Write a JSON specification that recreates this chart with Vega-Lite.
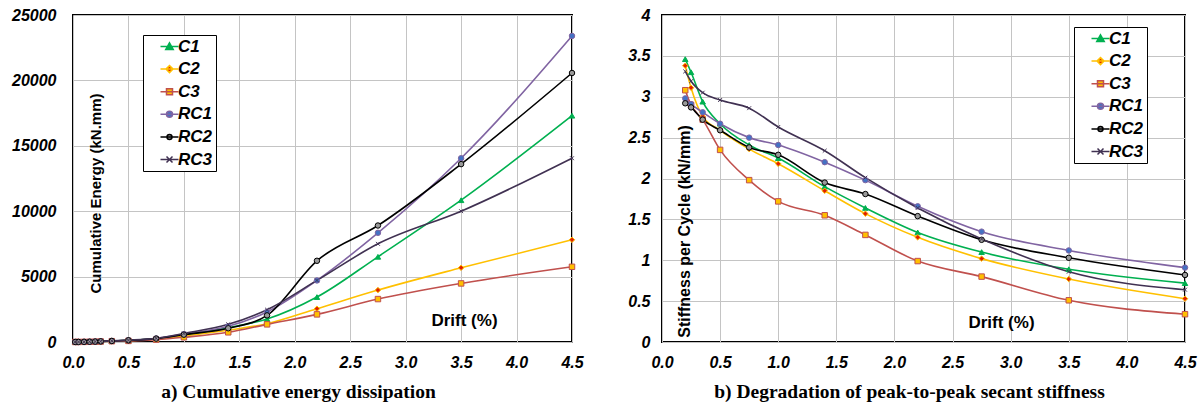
{
  "$schema": "https://vega.github.io/schema/vega-lite/v6.json",
  "background": "white",
  "padding": {"left": 10, "top": 6, "right": 5, "bottom": 2},
  "spacing": 41,
  "config": {
    "font": "Liberation Sans",
    "view": {"stroke": "black", "strokeWidth": 2},
    "axis": {
      "domain": false, "ticks": false, "tickSize": 0, "grid": true,
      "gridColor": "#c4c4c4", "gridWidth": 1,
      "labelFont": "Liberation Sans", "labelFontSize": 16, "labelFontWeight": "bold", "labelFontStyle": "italic", "labelColor": "black",
      "labelFlush": false, "labelOverlap": false,
      "titleFont": "Liberation Sans", "titleFontSize": 15, "titleFontWeight": "bold", "titleColor": "black"
    },
    "title": {"font": "Liberation Serif", "fontSize": 19.5, "fontWeight": "bold", "color": "black", "orient": "bottom", "anchor": "middle", "frame": "group", "offset": 13},
    "legend": {
      "orient": "none", "title": null, "strokeColor": "black", "fillColor": "white", "padding": 3,
      "labelFont": "Liberation Sans", "labelFontSize": 17, "labelFontWeight": "bold", "labelFontStyle": "italic", "labelColor": "black",
      "rowPadding": 4.6, "symbolSize": 100, "symbolOffset": 15, "labelOffset": 0, "symbolStrokeWidth": 1.5, "symbolOpacity": 1
    }
  },
  "datasets": {
    "energy": [
      {"s":"C1","d":0.02,"v":2},{"s":"C1","d":0.05,"v":5},{"s":"C1","d":0.1,"v":12},{"s":"C1","d":0.15,"v":20},{"s":"C1","d":0.2,"v":30},{"s":"C1","d":0.25,"v":45},{"s":"C1","d":0.35,"v":75},{"s":"C1","d":0.5,"v":125},{"s":"C1","d":0.75,"v":250},{"s":"C1","d":1.0,"v":530},{"s":"C1","d":1.4,"v":1100},{"s":"C1","d":1.75,"v":1756},{"s":"C1","d":2.2,"v":3435},{"s":"C1","d":2.75,"v":6514},{"s":"C1","d":3.5,"v":10840},{"s":"C1","d":4.5,"v":17300},
      {"s":"C2","d":0.02,"v":2},{"s":"C2","d":0.05,"v":5},{"s":"C2","d":0.1,"v":11},{"s":"C2","d":0.15,"v":19},{"s":"C2","d":0.2,"v":28},{"s":"C2","d":0.25,"v":42},{"s":"C2","d":0.35,"v":70},{"s":"C2","d":0.5,"v":105},{"s":"C2","d":0.75,"v":215},{"s":"C2","d":1.0,"v":460},{"s":"C2","d":1.4,"v":900},{"s":"C2","d":1.75,"v":1400},{"s":"C2","d":2.2,"v":2545},{"s":"C2","d":2.75,"v":3969},{"s":"C2","d":3.5,"v":5674},{"s":"C2","d":4.5,"v":7812},
      {"s":"C3","d":0.02,"v":2},{"s":"C3","d":0.05,"v":4},{"s":"C3","d":0.1,"v":10},{"s":"C3","d":0.15,"v":17},{"s":"C3","d":0.2,"v":25},{"s":"C3","d":0.25,"v":38},{"s":"C3","d":0.35,"v":62},{"s":"C3","d":0.5,"v":85},{"s":"C3","d":0.75,"v":180},{"s":"C3","d":1.0,"v":360},{"s":"C3","d":1.4,"v":740},{"s":"C3","d":1.75,"v":1349},{"s":"C3","d":2.2,"v":2112},{"s":"C3","d":2.75,"v":3282},{"s":"C3","d":3.5,"v":4478},{"s":"C3","d":4.5,"v":5751},
      {"s":"RC1","d":0.02,"v":2},{"s":"RC1","d":0.05,"v":5},{"s":"RC1","d":0.1,"v":12},{"s":"RC1","d":0.15,"v":20},{"s":"RC1","d":0.2,"v":32},{"s":"RC1","d":0.25,"v":48},{"s":"RC1","d":0.35,"v":80},{"s":"RC1","d":0.5,"v":135},{"s":"RC1","d":0.75,"v":270},{"s":"RC1","d":1.0,"v":600},{"s":"RC1","d":1.4,"v":1200},{"s":"RC1","d":1.75,"v":2300},{"s":"RC1","d":2.2,"v":4707},{"s":"RC1","d":2.75,"v":8346},{"s":"RC1","d":3.5,"v":14050},{"s":"RC1","d":4.5,"v":23400},
      {"s":"RC2","d":0.02,"v":2},{"s":"RC2","d":0.05,"v":5},{"s":"RC2","d":0.1,"v":12},{"s":"RC2","d":0.15,"v":20},{"s":"RC2","d":0.2,"v":32},{"s":"RC2","d":0.25,"v":48},{"s":"RC2","d":0.35,"v":80},{"s":"RC2","d":0.5,"v":130},{"s":"RC2","d":0.75,"v":260},{"s":"RC2","d":1.0,"v":560},{"s":"RC2","d":1.4,"v":1050},{"s":"RC2","d":1.75,"v":2036},{"s":"RC2","d":2.2,"v":6209},{"s":"RC2","d":2.75,"v":8906},{"s":"RC2","d":3.5,"v":13600},{"s":"RC2","d":4.5,"v":20566},
      {"s":"RC3","d":0.02,"v":2},{"s":"RC3","d":0.05,"v":5},{"s":"RC3","d":0.1,"v":13},{"s":"RC3","d":0.15,"v":22},{"s":"RC3","d":0.2,"v":34},{"s":"RC3","d":0.25,"v":50},{"s":"RC3","d":0.35,"v":85},{"s":"RC3","d":0.5,"v":140},{"s":"RC3","d":0.75,"v":280},{"s":"RC3","d":1.0,"v":650},{"s":"RC3","d":1.4,"v":1350},{"s":"RC3","d":1.75,"v":2468},{"s":"RC3","d":2.2,"v":4707},{"s":"RC3","d":2.75,"v":7506},{"s":"RC3","d":3.5,"v":10000},{"s":"RC3","d":4.5,"v":14050}
    ],
    "stiffness": [
      {"s":"C1","d":0.2,"v":3.46},{"s":"C1","d":0.25,"v":3.30},{"s":"C1","d":0.35,"v":2.94},{"s":"C1","d":0.5,"v":2.67},{"s":"C1","d":0.75,"v":2.41},{"s":"C1","d":1.0,"v":2.25},{"s":"C1","d":1.4,"v":1.90},{"s":"C1","d":1.75,"v":1.64},{"s":"C1","d":2.2,"v":1.34},{"s":"C1","d":2.75,"v":1.10},{"s":"C1","d":3.5,"v":0.89},{"s":"C1","d":4.5,"v":0.72},
      {"s":"C2","d":0.2,"v":3.38},{"s":"C2","d":0.25,"v":3.11},{"s":"C2","d":0.35,"v":2.76},{"s":"C2","d":0.5,"v":2.59},{"s":"C2","d":0.75,"v":2.36},{"s":"C2","d":1.0,"v":2.18},{"s":"C2","d":1.4,"v":1.85},{"s":"C2","d":1.75,"v":1.57},{"s":"C2","d":2.2,"v":1.28},{"s":"C2","d":2.75,"v":1.02},{"s":"C2","d":3.5,"v":0.77},{"s":"C2","d":4.5,"v":0.53},
      {"s":"C3","d":0.2,"v":3.08},{"s":"C3","d":0.25,"v":2.90},{"s":"C3","d":0.35,"v":2.72},{"s":"C3","d":0.5,"v":2.35},{"s":"C3","d":0.75,"v":1.98},{"s":"C3","d":1.0,"v":1.72},{"s":"C3","d":1.4,"v":1.55},{"s":"C3","d":1.75,"v":1.31},{"s":"C3","d":2.2,"v":0.99},{"s":"C3","d":2.75,"v":0.80},{"s":"C3","d":3.5,"v":0.51},{"s":"C3","d":4.5,"v":0.34},
      {"s":"RC1","d":0.2,"v":2.98},{"s":"RC1","d":0.25,"v":2.91},{"s":"RC1","d":0.35,"v":2.81},{"s":"RC1","d":0.5,"v":2.67},{"s":"RC1","d":0.75,"v":2.50},{"s":"RC1","d":1.0,"v":2.41},{"s":"RC1","d":1.4,"v":2.20},{"s":"RC1","d":1.75,"v":1.98},{"s":"RC1","d":2.2,"v":1.66},{"s":"RC1","d":2.75,"v":1.35},{"s":"RC1","d":3.5,"v":1.12},{"s":"RC1","d":4.5,"v":0.91},
      {"s":"RC2","d":0.2,"v":2.92},{"s":"RC2","d":0.25,"v":2.87},{"s":"RC2","d":0.35,"v":2.72},{"s":"RC2","d":0.5,"v":2.59},{"s":"RC2","d":0.75,"v":2.38},{"s":"RC2","d":1.0,"v":2.29},{"s":"RC2","d":1.4,"v":1.95},{"s":"RC2","d":1.75,"v":1.81},{"s":"RC2","d":2.2,"v":1.54},{"s":"RC2","d":2.75,"v":1.25},{"s":"RC2","d":3.5,"v":1.03},{"s":"RC2","d":4.5,"v":0.82},
      {"s":"RC3","d":0.2,"v":3.31},{"s":"RC3","d":0.25,"v":3.19},{"s":"RC3","d":0.35,"v":3.05},{"s":"RC3","d":0.5,"v":2.96},{"s":"RC3","d":0.75,"v":2.86},{"s":"RC3","d":1.0,"v":2.63},{"s":"RC3","d":1.4,"v":2.34},{"s":"RC3","d":1.75,"v":2.01},{"s":"RC3","d":2.2,"v":1.64},{"s":"RC3","d":2.75,"v":1.26},{"s":"RC3","d":3.5,"v":0.86},{"s":"RC3","d":4.5,"v":0.64}
    ]
  },
  "resolve": {"scale": {"stroke": "independent", "fill": "independent", "shape": "independent"}, "legend": {"stroke": "independent", "fill": "independent", "shape": "independent"}},
  "hconcat": [
    {
      "width": 499, "height": 327,
      "data": {"name": "energy"},
      "title": {"text": "a) Cumulative energy dissipation", "dx": -24},
      "encoding": {
        "x": {"field": "d", "type": "quantitative", "scale": {"domain": [0, 4.5], "nice": false},
              "axis": {"values": [0,0.5,1,1.5,2,2.5,3,3.5,4,4.5], "format": ".1f", "labelPadding": 12,
                       "title": "Drift (%)", "titleFontSize": 17, "titleX": 391, "titleY": -22, "titleAlign": "center", "titleBaseline": "middle"}},
        "y": {"field": "v", "type": "quantitative", "scale": {"domain": [0, 25000], "nice": false},
              "axis": {"values": [0,5000,10000,15000,20000,25000], "format": "d", "labelPadding": 17,
                       "title": "Cumulative Energy (kN.mm)", "titleX": 22, "titleY": 178, "titleAngle": -90, "titleAlign": "center", "titleBaseline": "middle"}}
      },
      "resolve": {"scale": {"stroke": "independent", "fill": "independent", "shape": "independent"}, "legend": {"stroke": "independent", "fill": "independent", "shape": "independent"}},
      "layer": [
        {"mark": {"type": "line", "interpolate": "monotone", "strokeWidth": 1.6},
         "encoding": {
           "stroke": {"field": "s", "type": "nominal", "scale": {"domain": ["C1","C2","C3","RC1","RC2","RC3"], "range": ["#00b050","#ffc000","#c0504d","#8064a2","#000000","#403152"]}, "legend": null}
         }},
        {"mark": {"type": "point", "filled": true, "size": 30, "strokeWidth": 1, "opacity": 1},
         "encoding": {
           "stroke": {"field": "s", "type": "nominal", "scale": {"domain": ["C1","C2","C3","RC1","RC2","RC3"], "range": ["#00b050","#ffc000","#c0504d","#8064a2","#000000","#403152"]}, "legend": null},
           "fill": {"field": "s", "type": "nominal", "scale": {"domain": ["C1","C2","C3","RC1","RC2","RC3"], "range": ["#00b050","#e02000","#ffc000","#4472c4","#999999","#403152"]}, "legend": null},
           "shape": {"field": "s", "type": "nominal", "scale": {"domain": ["C1","C2","C3","RC1","RC2","RC3"], "range": ["triangle-up","diamond","square","circle","circle","M-0.7,-0.7L0.7,0.7M-0.7,0.7L0.7,-0.7"]}, "legend": null}
         }},
        {"transform": [{"filter": "false"}],
         "mark": {"type": "point", "filled": true, "size": 100, "strokeWidth": 1.5, "opacity": 1},
         "encoding": {
           "stroke": {"field": "s", "type": "nominal", "scale": {"domain": ["C1","C2","C3","RC1","RC2","RC3"], "range": ["#00b050","#ffc000","#c0504d","#8064a2","#000000","#403152"]}, "legend": {"legendX": 70, "legendY": 20, "labelExpr": "datum.label + '\u00a0\u00a0\u00a0\u00a0\u00a0'"}},
           "fill": {"field": "s", "type": "nominal", "scale": {"domain": ["C1","C2","C3","RC1","RC2","RC3"], "range": ["#00b050","#e02000","#ffc000","#4472c4","#999999","#403152"]}, "legend": {"legendX": 70, "legendY": 20, "labelExpr": "datum.label + '\u00a0\u00a0\u00a0\u00a0\u00a0'"}},
           "shape": {"field": "s", "type": "nominal", "scale": {"domain": ["C1","C2","C3","RC1","RC2","RC3"], "range": ["M-1.8,0H1.8M0,-0.75L0.75,0.6L-0.75,0.6Z","M-1.8,0H1.8M0,-0.7L0.7,0L0,0.7L-0.7,0Z","M-1.8,0H1.8M-0.6,-0.6H0.6V0.6H-0.6Z","M-1.8,0H1.8M-0.6,0A0.6,0.6 0 1,0 0.6,0A0.6,0.6 0 1,0 -0.6,0Z","M-1.8,0H1.8M-0.5,0A0.5,0.5 0 1,0 0.5,0A0.5,0.5 0 1,0 -0.5,0Z","M-1.8,0H1.8M-0.6,-0.6L0.6,0.6M-0.6,0.6L0.6,-0.6"]}, "legend": {"legendX": 70, "legendY": 20, "labelExpr": "datum.label + '\u00a0\u00a0\u00a0\u00a0\u00a0'"}}
         }}
      ]
    },
    {
      "width": 523, "height": 327,
      "data": {"name": "stiffness"},
      "title": {"text": "b) Degradation of peak-to-peak secant stiffness", "dx": -14},
      "encoding": {
        "x": {"field": "d", "type": "quantitative", "scale": {"domain": [0, 4.5], "nice": false},
              "axis": {"values": [0,0.5,1,1.5,2,2.5,3,3.5,4,4.5], "format": ".1f", "labelPadding": 12,
                       "title": "Drift (%)", "titleFontSize": 17, "titleX": 339, "titleY": -20, "titleAlign": "center", "titleBaseline": "middle"}},
        "y": {"field": "v", "type": "quantitative", "scale": {"domain": [0, 4], "nice": false},
              "axis": {"values": [0,0.5,1,1.5,2,2.5,3,3.5,4], "format": "~g", "labelPadding": 12,
                       "title": "Stiffness per Cycle (kN/mm)", "titleFontSize": 16, "titleX": 22, "titleY": 216, "titleAngle": -90, "titleAlign": "center", "titleBaseline": "middle"}}
      },
      "resolve": {"scale": {"stroke": "independent", "fill": "independent", "shape": "independent"}, "legend": {"stroke": "independent", "fill": "independent", "shape": "independent"}},
      "layer": [
        {"mark": {"type": "line", "interpolate": "monotone", "strokeWidth": 1.6},
         "encoding": {
           "stroke": {"field": "s", "type": "nominal", "scale": {"domain": ["C1","C2","C3","RC1","RC2","RC3"], "range": ["#00b050","#ffc000","#c0504d","#8064a2","#000000","#403152"]}, "legend": null}
         }},
        {"mark": {"type": "point", "filled": true, "size": 30, "strokeWidth": 1, "opacity": 1},
         "encoding": {
           "stroke": {"field": "s", "type": "nominal", "scale": {"domain": ["C1","C2","C3","RC1","RC2","RC3"], "range": ["#00b050","#ffc000","#c0504d","#8064a2","#000000","#403152"]}, "legend": null},
           "fill": {"field": "s", "type": "nominal", "scale": {"domain": ["C1","C2","C3","RC1","RC2","RC3"], "range": ["#00b050","#e02000","#ffc000","#4472c4","#999999","#403152"]}, "legend": null},
           "shape": {"field": "s", "type": "nominal", "scale": {"domain": ["C1","C2","C3","RC1","RC2","RC3"], "range": ["triangle-up","diamond","square","circle","circle","M-0.7,-0.7L0.7,0.7M-0.7,0.7L0.7,-0.7"]}, "legend": null}
         }},
        {"transform": [{"filter": "false"}],
         "mark": {"type": "point", "filled": true, "size": 100, "strokeWidth": 1.5, "opacity": 1},
         "encoding": {
           "stroke": {"field": "s", "type": "nominal", "scale": {"domain": ["C1","C2","C3","RC1","RC2","RC3"], "range": ["#00b050","#ffc000","#c0504d","#8064a2","#000000","#403152"]}, "legend": {"legendX": 412, "legendY": 12, "labelExpr": "datum.label + '\u00a0\u00a0\u00a0\u00a0\u00a0'"}},
           "fill": {"field": "s", "type": "nominal", "scale": {"domain": ["C1","C2","C3","RC1","RC2","RC3"], "range": ["#00b050","#e02000","#ffc000","#4472c4","#999999","#403152"]}, "legend": {"legendX": 412, "legendY": 12, "labelExpr": "datum.label + '\u00a0\u00a0\u00a0\u00a0\u00a0'"}},
           "shape": {"field": "s", "type": "nominal", "scale": {"domain": ["C1","C2","C3","RC1","RC2","RC3"], "range": ["M-1.8,0H1.8M0,-0.75L0.75,0.6L-0.75,0.6Z","M-1.8,0H1.8M0,-0.7L0.7,0L0,0.7L-0.7,0Z","M-1.8,0H1.8M-0.6,-0.6H0.6V0.6H-0.6Z","M-1.8,0H1.8M-0.6,0A0.6,0.6 0 1,0 0.6,0A0.6,0.6 0 1,0 -0.6,0Z","M-1.8,0H1.8M-0.5,0A0.5,0.5 0 1,0 0.5,0A0.5,0.5 0 1,0 -0.5,0Z","M-1.8,0H1.8M-0.6,-0.6L0.6,0.6M-0.6,0.6L0.6,-0.6"]}, "legend": {"legendX": 412, "legendY": 12, "labelExpr": "datum.label + '\u00a0\u00a0\u00a0\u00a0\u00a0'"}}
         }}
      ]
    }
  ]
}
